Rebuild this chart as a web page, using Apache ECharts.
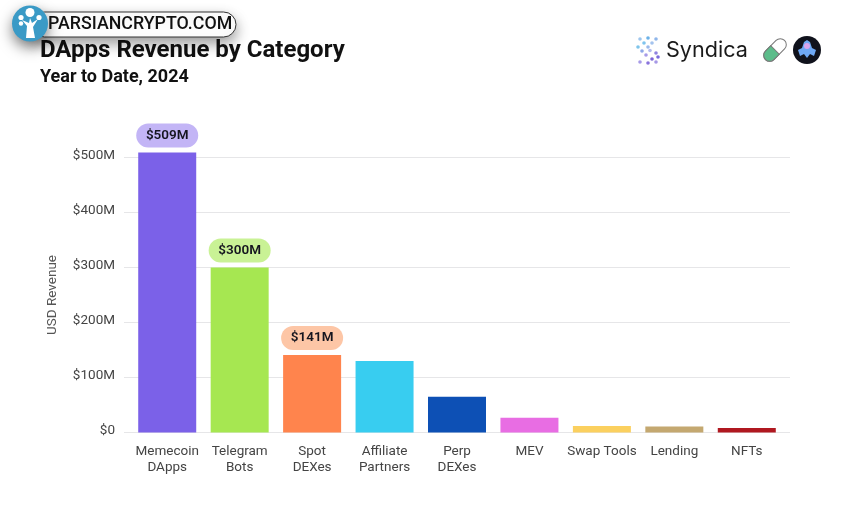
<!DOCTYPE html>
<html><head><meta charset="utf-8">
<style>html,body{margin:0;padding:0;background:#fff}#c{width:858px;height:513px}</style>
<script src="https://cdn.jsdelivr.net/npm/echarts@6/dist/echarts.min.js"></script>
</head><body><div id="c"></div>
<script>
const categories = ["Memecoin\nDApps","Telegram\nBots","Spot\nDEXes","Affiliate\nPartners","Perp\nDEXes","MEV","Swap Tools","Lending","NFTs"];
const revenue = [509,300,141,130,65,27,12,11,8];
const barColors = ["#7b61e8","#a6e751","#ff844d","#38cdf0","#0d50b5","#e86de3","#fbd05f","#c4a870","#b01820"];
const pillColors = ["#c3b5f6","#c9f295","#fdc6a6"];
const F = "Roboto, sans-serif";
const data = revenue.map((v,i)=>({
  value:v,
  itemStyle:{color:barColors[i]},
  label: i<pillColors.length ? {
    show:true, position:"top", distance:5,
    formatter:"$"+v+"M", color:"#15151f", fontFamily:F, fontWeight:600, fontSize:13.5,
    backgroundColor:pillColors[i], borderRadius:12, width:62, height:24, lineHeight:24, align:"center"
  } : {show:false}
}));
const dots = [[640,39],[648,38],[656,39],[644,43],[652,43],[638,47],[648,47],[642,51],[650,50.5],[656,53],[646,55],[658,57],[652,59],[640,62],[648,63],[656,62]];
const dotCols = ["#9ec6ee","#6cb2e8","#8fb6ea","#7fc4ee","#a4c3ee","#7ec4ea","#9ab8ea","#8fa8e8","#b3bbee","#8f82e0","#a79be8","#7b6bdc","#7c64d8","#a79be8","#8a74dc","#a698e6"];
const graphic = [
  {type:"text",left:40,top:39,z:5,style:{text:"DApps Revenue by Category",font:"700 24px "+F,fill:"#111"}},
  {type:"text",left:40,top:68,z:5,style:{text:"Year to Date, 2024",font:"700 18px "+F,fill:"#111"}},
  {type:"text",z:5,x:53,y:295,rotation:Math.PI/2,style:{text:"USD Revenue",font:"400 13.5px "+F,fill:"#555",align:"center",verticalAlign:"middle"}},
  {type:"rect",z:8,shape:{x:32,y:12,width:204,height:25,r:12.5},style:{fill:"#fff",stroke:"#333",lineWidth:1,shadowBlur:14,shadowColor:"rgba(0,0,0,.4)",shadowOffsetY:6}},
  {type:"text",z:9,left:48,top:16,style:{text:"PARSIANCRYPTO.COM",font:"500 17.8px "+F,fill:"#111"}},
  {type:"circle",z:10,shape:{cx:30,cy:23.5,r:18},style:{fill:"#3a9ac6",shadowBlur:14,shadowColor:"rgba(0,0,0,.5)",shadowOffsetY:6}},
  {type:"polygon",z:11,shape:{points:[[26,38],[27,26],[22,20],[29,23],[30,18],[32,23],[38,19],[33,27],[35,38]]},style:{fill:"#fff"}},
  {type:"circle",z:11,shape:{cx:30,cy:12.5,r:4.5},style:{fill:"#fff"}},
  {type:"circle",z:11,shape:{cx:21,cy:17.5,r:2.6},style:{fill:"#fff"}},
  {type:"circle",z:11,shape:{cx:39,cy:17.5,r:2.6},style:{fill:"#fff"}},
  {type:"circle",z:11,shape:{cx:21,cy:23.5,r:2.2},style:{fill:"#fff"}},
  ...dots.map((d,i)=>({type:"circle",z:5,shape:{cx:d[0],cy:d[1],r:1.8},style:{fill:dotCols[i]}})),
  {type:"text",z:5,left:666,top:39,style:{text:"Syndica",font:"400 21.6px Inter, "+F,fill:"#1a1a1a"}},
  {type:"rect",z:5,rotation:Math.PI/4,x:775,y:50,shape:{x:-13.5,y:-6,width:27,height:12,r:6},style:{fill:"#fff",stroke:"#777",lineWidth:1}},
  {type:"rect",z:6,rotation:Math.PI/4,x:775,y:50,shape:{x:-13.5,y:-6,width:13.5,height:12,r:[6,0,0,6]},style:{fill:"#5cbc8a",stroke:"#777",lineWidth:1}},
  {type:"circle",z:5,shape:{cx:807,cy:50,r:14},style:{fill:"#10121c"}},
  {type:"polygon",z:6,shape:{points:[[798,50],[802,48],[804,42],[807,40],[810,42],[812,48],[816,50],[814,56],[810,54],[807,58],[804,54],[800,56]]},style:{fill:"#6ea8f5"}},
  {type:"circle",z:7,shape:{cx:807,cy:46,r:3},style:{fill:"#d9a5ee"}}
];
const chart = echarts.init(document.getElementById("c"),null,{renderer:"canvas"});
chart.setOption({
  animation:false,
  backgroundColor:"#fff",
  graphic,
  grid:[
    {left:124,width:666,top:102.5,height:330},
    {left:131,width:652,top:102.5,height:330}
  ],
  xAxis:[
    {gridIndex:0,type:"value",show:false},
    {gridIndex:1,type:"category",data:categories,
      axisLine:{show:false},axisTick:{show:false},
      axisLabel:{interval:0,color:"#444",fontFamily:F,fontSize:13.5,lineHeight:16,margin:11}}
  ],
  yAxis:[
    {gridIndex:0,type:"value",min:0,max:600,interval:100,
      axisLine:{show:false},axisTick:{show:false},
      axisLabel:{showMaxLabel:false,margin:9,color:"#444",
        formatter:v=>"{t|"+(v===0?"$0":"$"+v+"M")+"}",
        rich:{t:{color:"#444",fontFamily:F,fontSize:13.5,padding:[0,0,4,0]}}},
      splitLine:{showMaxLine:false,showMinLine:true,lineStyle:{color:"#e6e6e8",width:1}}},
    {gridIndex:1,type:"value",min:0,max:600,interval:100,show:false,splitLine:{show:false}}
  ],
  series:[{type:"bar",xAxisIndex:1,yAxisIndex:1,data,barWidth:58,silent:true,z:3}]
});
</script></body></html>
